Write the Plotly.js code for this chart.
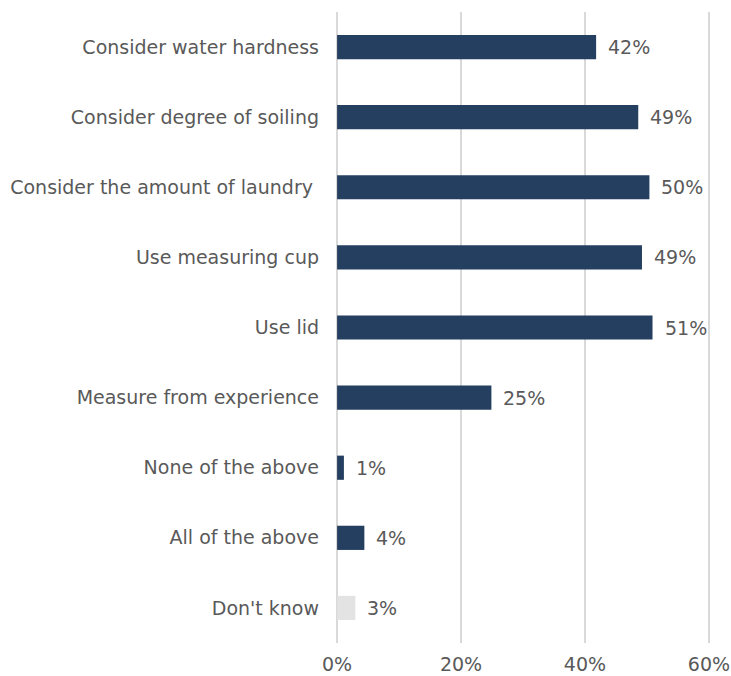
<!DOCTYPE html>
<html>
<head>
<meta charset="utf-8">
<script src="https://cdn.plot.ly/plotly-3.0.1.min.js"></script>
<style>html,body{margin:0;padding:0;background:#fff;}</style>
</head>
<body>
<div id="chart" style="width:731px;height:676px;"></div>
<script>
const categories = [
  "Consider water hardness",
  "Consider degree of soiling",
  "Consider the amount of laundry ",
  "Use measuring cup",
  "Use lid",
  "Measure from experience",
  "None of the above",
  "All of the above",
  "Don't know"
];
const values = [41.8, 48.6, 50.4, 49.2, 50.9, 24.9, 1.1, 4.4, 2.95];
const valueLabels = ["42%", "49%", "50%", "49%", "51%", "25%", "1%", "4%", "3%"];
const barColors = ["#243f60", "#243f60", "#243f60", "#243f60", "#243f60", "#243f60", "#243f60", "#243f60", "#e3e3e3"];
const xTickVals = [0, 20, 40, 60];
const xTickText = ["0%", "20%", "40%", "60%"];

const font = {family: "DejaVu Sans, Verdana, sans-serif", size: 19, color: "#595959"};

const trace = {
  type: "bar",
  orientation: "h",
  y: categories,
  x: values,
  marker: {color: barColors, line: {width: 0}},
  hoverinfo: "none"
};

const annotations = categories.map((c, i) => ({
  x: values[i], y: c, xref: "x", yref: "y",
  text: valueLabels[i], showarrow: false,
  xanchor: "left", yanchor: "middle", xshift: 10,
  font: font
}));

const layout = {
  width: 731, height: 676,
  margin: {l: 334, r: 19, t: 12, b: 33},
  paper_bgcolor: "#ffffff", plot_bgcolor: "#ffffff",
  font: font,
  bargap: 0.655,
  showlegend: false,
  xaxis: {
    range: [-0.5, 60.5], tickvals: xTickVals, ticktext: xTickText,
    showgrid: true, gridcolor: "#d9d9d9", gridwidth: 1.3,
    zeroline: false, showline: false, ticks: "", ticklabelstandoff: 8,
    tickfont: font, fixedrange: true
  },
  yaxis: {
    autorange: "reversed", showgrid: false, zeroline: false,
    showline: false, ticks: "", ticklabelstandoff: 14,
    tickfont: font, fixedrange: true
  },
  annotations: annotations
};

Plotly.newPlot("chart", [trace], layout, {displayModeBar: false, staticPlot: true});
</script>
</body>
</html>
